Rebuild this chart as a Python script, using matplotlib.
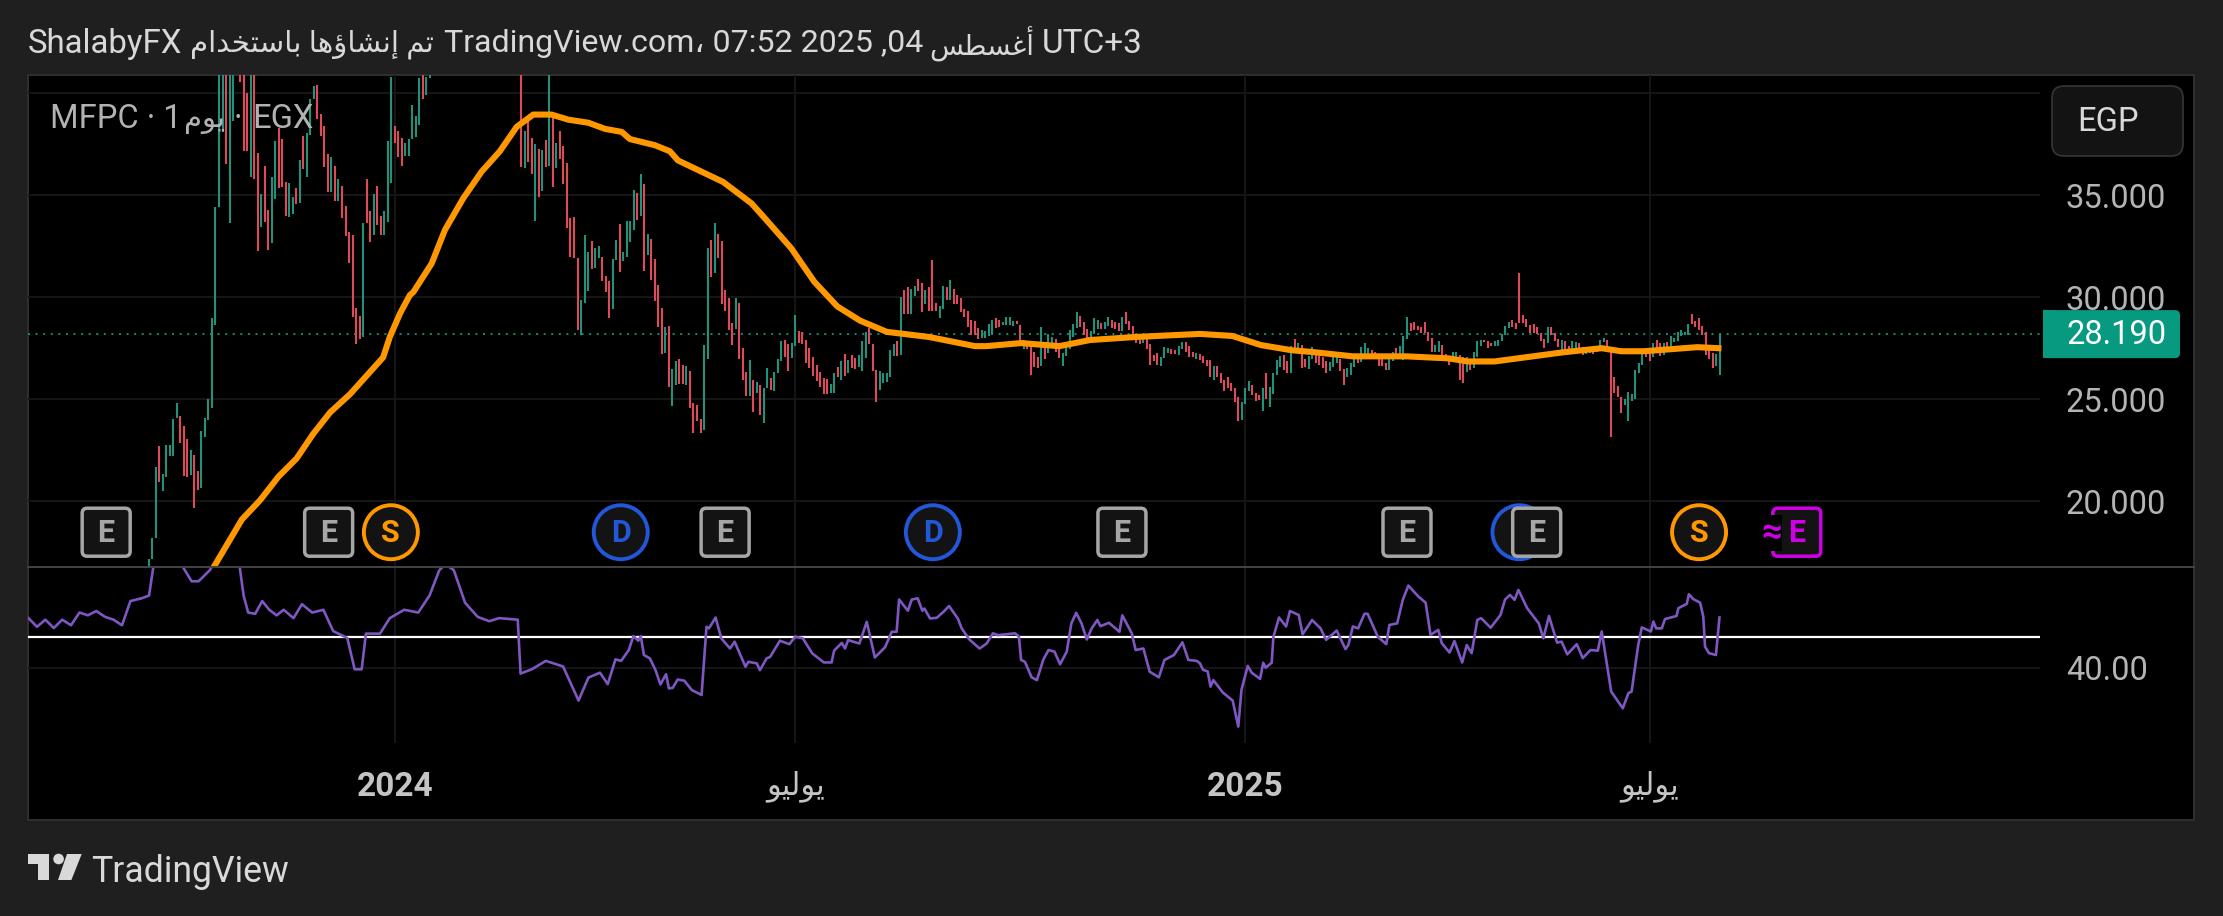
import numpy as np
import matplotlib
matplotlib.use('Agg')
import matplotlib.pyplot as plt
from matplotlib.patches import FancyBboxPatch, Circle, Polygon, Rectangle

plt.rcParams['font.family'] = ['Roboto', 'DejaVu Sans']

nan = float('nan')
W, H = 2223, 916

# daily bars, high and low (41.5 = runs off the top of the pane)
bar_high = [
    17.15,18.2,21.7,22.7,21.35,22.75,22.75,24.05,24.8,24.2,
    23.7,23.05,22.5,22.25,21.5,23.45,24.1,25.0,29.0,34.4,
    41.5,41.5,41.5,41.5,41.5,nan,41.5,41.5,40.0,41.5,
    41.5,37.05,35.05,36.45,34.25,35.9,37.65,38.3,37.75,35.65,
    35.6,34.9,35.35,36.7,37.9,38.05,39.7,40.35,40.4,39.0,
    38.4,37.0,36.85,36.45,35.8,35.45,34.45,33.2,33.05,29.45,
    29.1,33.65,35.8,34.2,35.05,35.45,34.0,34.2,37.65,40.8,
    38.4,38.15,37.8,37.55,37.75,
    39.4,38.9,40.75,41.5,40.8,41.5,
    nan,nan,nan,nan,nan,nan,nan,nan,nan,nan,nan,nan,nan,nan,nan,nan,nan,nan,nan,nan,nan,nan,nan,nan,nan,
    41.5,38.15,38.7,37.8,37.5,37.25,37.2,37.7,41.5,38.9,
    37.55,38.15,37.4,36.6,33.9,33.95,31.9,29.85,33.05,32.2,
    32.75,32.4,32.5,31.95,31.05,30.8,31.85,32.8,33.6,32.2,
    33.75,33.75,35.25,35.1,36.05,35.55,33.1,32.85,31.85,30.6,
    29.45,28.55,28.6,
    26.5,26.85,26.95,26.7,26.65,26.4,24.8,24.7,24.05,27.65,
    32.4,32.8,33.65,33.1,32.75,30.35,29.95,28.75,29.95,29.7,
    27.5,26.35,26.9,25.95,25.85,25.7,25.55,26.55,26.05,26.35,
    26.95,27.85,27.9,27.7,27.75,29.15,28.35,28.3,27.9,27.5,
    27.05,26.7,26.35,26.05,26.0,25.75,26.3,26.6,26.85,27.2,
    26.9,27.15,27.0,27.15,27.85,28.3,28.5,27.7,26.45,26.4,
    26.3,26.3,27.4,27.7,27.85,30.0,30.35,30.5,30.4,30.55,
    30.9,
    30.7,30.35,30.5,31.8,29.7,29.55,30.55,30.5,30.85,30.4,
    30.1,29.95,29.4,29.3,28.9,28.85,28.5,28.4,28.35,28.7,
    28.9,29.0,28.9,28.8,29.05,29.05,28.85,28.85,28.65,27.9,
    27.85,27.7,27.3,27.05,28.55,27.7,28.2,28.05,27.95,27.6,
    27.25,27.6,28.4,28.7,29.25,29.1,28.8,28.45,28.35,29.0,
    28.9,28.75,28.8,29.05,28.9,28.8,28.75,29.05,29.25,28.85,
    28.6,28.05,27.95,27.95,27.95,27.7,27.15,27.25,27.05,27.55,
    27.5,27.45,27.4,27.6,
    27.8,27.8,27.6,27.3,27.25,27.2,27.1,26.9,26.9,26.65,
    26.65,26.3,25.95,26.1,25.8,25.55,25.1,24.85,25.55,25.9,
    25.7,25.3,25.2,25.55,26.3,25.6,26.3,26.9,27.1,27.15,
    26.85,27.6,27.95,27.75,27.65,26.95,27.1,27.55,27.35,27.3,
    27.05,26.85,26.8,27.15,27.1,26.95,26.5,26.55,26.75,27.2,
    27.15,27.55,27.75,27.5,27.4,27.3,27.0,26.95,26.75,26.95,
    27.3,27.5,27.6,28.1,29.05,28.75,28.8,28.6,28.55,28.8,
    28.3,28.0,27.65,27.85,
    27.65,27.2,27.05,27.3,27.3,27.15,27.05,27.05,26.9,27.3,
    27.85,27.9,27.9,27.85,27.75,27.85,27.9,28.2,28.6,28.8,
    28.9,28.75,31.2,29.15,28.95,28.65,28.7,28.55,28.25,27.95,
    28.55,28.55,28.25,27.95,27.9,27.85,27.6,27.85,27.8,27.75,
    27.55,27.45,27.5,27.5,27.55,27.9,28.0,27.9,27.4,26.1,
    25.65,25.1,25.0,25.35,25.25,26.45,26.75,27.3,27.35,27.3,
    27.75,27.9,27.75,27.75,27.8,28.1,28.0,28.3,28.4,28.3,
    28.7,29.2,28.85,29.0,28.6,28.3,27.65,27.25,27.2,28.19,
]
bar_low = [
    16.75,17.15,18.2,20.95,20.5,21.2,22.2,22.2,24.1,22.85,
    21.25,21.2,21.3,19.65,20.55,20.65,23.15,24.0,24.55,28.65,
    34.4,38.1,36.55,33.65,38.65,nan,40.55,37.15,37.15,35.9,
    35.8,32.25,33.45,33.7,32.3,32.65,34.8,35.35,35.4,34.0,
    33.95,34.1,34.55,34.6,36.3,35.9,37.95,39.7,38.75,37.9,
    36.4,35.15,35.15,34.7,34.7,33.9,33.0,31.7,29.05,27.7,
    27.95,28.05,33.65,32.7,33.05,33.55,33.05,33.05,33.7,35.6,
    37.55,36.85,36.45,36.9,36.9,
    37.75,37.85,38.45,39.7,39.9,40.75,
    nan,nan,nan,nan,nan,nan,nan,nan,nan,nan,nan,nan,nan,nan,nan,nan,nan,nan,nan,nan,nan,nan,nan,nan,nan,
    36.4,36.35,36.65,36.05,33.75,34.9,35.2,36.4,36.45,35.4,
    36.35,36.75,35.55,33.4,31.95,31.9,28.4,28.15,29.7,30.3,
    31.4,31.45,31.9,30.8,30.25,29.0,29.4,31.8,31.25,31.75,
    31.95,32.7,33.3,33.8,34.0,31.3,32.05,30.85,29.8,28.55,
    27.2,27.25,25.6,
    24.65,25.7,25.75,25.75,25.7,24.55,23.35,23.95,23.35,23.5,
    26.95,31.0,31.2,31.9,29.65,29.3,28.4,27.65,28.45,26.95,
    25.95,25.15,25.15,24.35,25.3,24.25,23.85,25.55,25.45,25.4,
    26.3,26.85,27.05,26.4,27.0,27.6,27.75,27.7,26.75,26.55,
    26.15,25.9,25.6,25.25,25.25,25.3,25.3,26.1,25.95,26.15,
    26.3,26.55,26.5,26.6,26.4,27.0,27.7,26.4,24.85,25.45,
    25.8,25.85,26.1,27.1,27.1,27.15,29.2,29.2,29.2,30.05,
    30.3,
    29.25,29.65,29.3,29.3,29.3,29.0,29.4,29.85,29.85,29.65,
    29.65,29.25,29.05,28.55,28.15,28.15,27.95,28.0,28.0,28.1,
    28.2,28.5,28.55,28.65,28.65,28.65,28.6,28.7,27.6,27.45,
    27.45,26.2,26.6,26.55,26.65,26.95,27.25,27.6,27.3,27.0,
    26.65,27.1,27.45,28.05,28.5,28.55,28.15,27.85,27.85,28.2,
    28.45,28.45,28.45,28.6,28.5,28.45,28.35,28.35,28.7,28.4,
    28.0,27.75,27.7,27.75,27.45,26.7,26.85,26.7,26.65,27.0,
    27.25,27.2,27.2,27.15,
    27.45,27.3,27.05,27.05,26.95,26.9,26.75,26.65,26.1,25.95,
    26.1,25.8,25.4,25.55,25.4,24.85,23.95,24.0,24.75,25.4,
    25.2,24.9,24.95,24.4,25.0,24.6,25.25,26.2,26.6,26.45,
    26.3,26.3,27.3,27.3,26.55,26.6,26.5,26.95,26.75,26.7,
    26.55,26.3,26.4,26.6,26.75,26.4,25.7,26.1,26.2,26.6,
    26.75,26.8,27.2,27.05,27.05,26.95,26.65,26.65,26.45,26.45,
    26.85,27.05,27.2,26.9,27.95,28.35,28.4,28.4,28.25,28.25,
    27.85,27.3,27.3,27.3,
    27.05,26.85,26.7,26.85,27.05,25.95,25.8,26.35,26.45,26.55,
    27.05,27.6,27.8,27.5,27.6,27.6,27.6,27.85,28.15,28.5,
    28.55,28.45,28.75,28.75,28.55,28.25,28.25,28.2,27.85,27.5,
    27.75,28.15,27.85,27.55,27.2,27.25,27.3,27.3,27.5,27.45,
    27.15,27.2,27.25,27.2,27.3,27.35,27.8,27.4,23.15,25.3,
    25.1,24.3,24.7,23.95,24.9,25.0,26.3,26.7,27.05,26.85,
    27.05,27.25,27.1,27.15,27.55,27.6,27.8,27.85,28.1,28.15,
    28.15,28.7,28.55,28.4,28.15,27.15,26.95,26.55,26.65,26.2,
]
bar_dir = (
    'GGGRGGGGGR' 'RRGRRGGGGG' 'GGRGGGRRRG' 'RRGRRGGRRR' 'GGRGRGGGRR'
    'RRGRGRRRRR' 'RGRRGRRGGG' 'RRRGG'
    'GGGRGG'
    'GGGGGGGGGGGGGGGGGGGGGGGGG'
    'RGRRGRGRGR' 'GRRRRRRGGG' 'RGGRRRGGRG' 'GGGRGRGRRR' 'RGR'
    'GGRRGRRRRG' 'GRGRRRRRGR' 'RRGRGRGGRG' 'GGRRGGRRRR' 'RRRRRGGRGR'
    'GRRGGGRRRG' 'GGGGRGRRGG' 'R'
    'RGRRRGGRGR' 'RRRRRRRGGG' 'GRRGGGGRRG' 'RRRRGRGGRR' 'GGGGGRRRGG'
    'GRGGRRRGRR' 'RRRGRRRRGG' 'GRRG'
    'GRRRGRRRRG' 'RRRRRRRGGG' 'RRRGRGGGGR' 'RGRGRRGGRR' 'RRGGGRRGGG'
    'RGGGRRRRRG' 'GRGGGRRRRR' 'RRGG'
    'RRRGGRRGRG' 'GGRRRGGGGG' 'RRRRRRRRRR' 'GRRRGRRGGR' 'RGGRGGGRRR'
    'RRGGGGGGRR' 'GRRGRGGGGG' 'GRRRRRRRGG'
)

# moving average knots: bar position, price
ma_bar = [18.6,26.5,31.7,36.9,42.1,46.8,51.6,57.3,62.0,66.7,68.6,71.5,74.3,75.3,80.5,84.3,89.5,94.7,99.9,
          104.7,109.4,114.6,119.4,125.1,129.8,134.6,136.9,144.0,148.3,150.6,163.4,171.5,175.8,182.8,189.4,195.9,
          202.4,210.0,222.0,235.1,238.3,248.2,259.1,267.8,280.8,299.1,308.3,316.5,325.2,331.8,342.6,357.9,369.9,
          375.3,382.9,393.8,402.5,413.4,418.9,425.4,440.6,446.6]
ma_val = [16.8,19.1,20.05,21.2,22.1,23.3,24.35,25.25,26.15,27.05,28.05,29.2,30.1,30.25,31.65,33.3,34.85,36.15,37.15,
          38.35,38.95,38.95,38.7,38.55,38.25,38.1,37.75,37.45,37.15,36.7,35.65,34.6,33.77,32.4,30.75,29.55,
          28.85,28.3,28.05,27.6,27.6,27.75,27.6,27.9,28.05,28.2,28.1,27.65,27.4,27.3,27.1,27.1,27.0,
          26.85,26.85,27.1,27.3,27.5,27.35,27.35,27.55,27.5]

# lower pane oscillator knots
rsi_bar = [-34.2,-31.8,-29.4,-27,-24.6,-22.1,-19.7,-17.3,-14.9,-12.4,-10,-7.6,-5.2,-2,0.1,1.3,5,9.8,12.2,14.2,17.4,21,25.9,
           27,28.3,30.3,32.3,34.3,36.4,38.4,41.2,43.6,46.5,49.7,52.5,56.5,58.6,60.6,61.8,65.8,68.6,72.7,76.7,79.9,82.7,84.4,
           86.8,90,93.6,96.9,99.7,105,105.8,109,113,117.9,122.3,125.1,
           128.4,130.6,132.8,134.4,136.6,137.9,139.3,140,140.9,142.6,144.2,145.6,147.2,148,149.1,150.5,152.4,154.5,157.3,
           158.7,159.4,161.3,162.9,165.4,166.7,169.8,170.6,173,173.9,175.8,176.8,179.6,182.3,183.9,186.1,188.8,192.1,194.3,
           195,197.2,198.1,199,202.2,204.3,206.6,209.5,211.4,212.8,213.5,216,217.1,218.8,220.1,220.7,222.3,224.2,226.1,227.7,
           230.2,231.3,233.5,236.4,238.4,240.2,241.6,246.5,247.6,248.2,249.3,251.2,252.7,254.5,256,257.7,259.3,261.2,262.5,
           263.9,265.4,266.9,268.3,269.9,270.8,273.2,276.2,277,279.7,280.8,283,284.8,287.4,289,291.7,294.1,295.8,298.2,
           299.1,300,301.3,302.1,302.9,305.6,308.4,310,310.9,312.7,313.8,316.2,317.1,317.8,319.5,320,321.6,323.6,324.7,327.2,
           328.3,331,333.4,335,338,340.5,341.3,342.6,344.1,345.9,346.8,349.7,352.1,353,355.2,356.8,358.4,361.2,363.3,364.7,
           366.9,367.9,370.1,371.5,373.7,375,376.4,378,379.1,381.8,384.6,385.9,387.3,388.6,389.7,392.2,395.5,396.8,398.4,
           400.7,402,403.6,406.3,408,410.2,412.3,413.4,416.1,419.4,421,421.9,423.8,424.8,427.4,428.1,428.9,430.5,431.4,434.7,
           435.2,437.6,438.2,439.5,441.4,442.3,442.8,443.9,445.9,446.9]
rsi_val = [56,53.2,55.5,52.8,55.5,53.7,57.8,56.9,58.3,56.4,55.5,53.7,61.5,62.4,63.3,72.4,78,72.4,67.9,67.9,71.5,78,72.4,
           63.3,57.8,57.4,61.5,58.7,56.9,58.7,56,60.5,57.8,58.7,51.8,49.6,39.5,39.5,51,51,56,58.7,57.8,63.3,71.5,73.4,
           71.5,61,56.4,55,56,55.5,38.1,39.5,42.2,40.4,29.4,36.8,
           38.4,34.7,42.7,42.2,45.7,50.2,48.7,50.2,44.1,43,39.2,34.6,37.9,33.3,33.5,36.2,35.8,32.8,31.2,
           53.2,52.7,56.2,49.5,46.2,48.4,40.3,41.9,41.4,39.2,43,43.5,48.7,47.6,50,49.5,44.6,41.7,41.7,
           45.5,48,46.2,48.9,47.8,54.8,43.3,46.6,51.6,51.6,62,58.4,62,62.4,58.4,59.1,55.9,56.1,58,59.9,
           55.9,52.7,49.1,46.2,47.8,51.1,50.5,51.1,50,42.5,41.9,36.9,36,42.5,45.7,45.2,41.1,45.2,54.3,
           57.7,54.3,49.1,52.7,55.4,53.4,54.5,51.6,56.9,51.1,45.7,46.2,38.7,36.9,42.5,44.1,48.2,42.5,42.2,
           41.4,39.3,38.8,33.9,36,32,29.4,21,32.8,40.6,38.4,36.4,41.6,40,41.6,50,56.2,53.3,58.3,57,
           50.8,55.4,52.7,49,52,46,47.3,53.3,52.7,57.4,57.4,50,47.6,53.8,54.3,61.9,66.5,63,61,50.6,
           52.2,47.9,44.9,48.6,41.7,47.3,44.7,55.4,56,52.9,57,62,63.5,61.9,65.1,59.2,54.3,49.5,56.7,
           48.1,48.4,44.3,47.6,43.1,45.7,45.5,51.7,32.3,26.9,31.8,32.3,47.4,53,51.7,54.9,52.7,52.7,55.7,56.7,
           59.2,60.6,63.7,62.1,61,56.5,46.8,44.7,44.1,56.2]

last_price = 28.19
price_ticks = [20, 25, 30, 35, 40]
price_labels = ['20.000', '25.000', '30.000', '35.000', '']
rsi_ticks = [40]
rsi_labels = ['40.00']
rsi_level = 50

tick_bars = [70, 184, 312, 427]
july = 'يوليو'

# events on the time scale
event_bars = [-12.1, 51.2, 68.9, 134.3, 164, 223.1, 276.9, 358, 390, 394.9, 441.1, 468.9]
event_kinds = ['E', 'E', 'S', 'D', 'E', 'D', 'E', 'E', 'D', 'E', 'S', 'F']

# arabic glyph forms: isolated, final, initial, medial
FORMS = {
    'ا': (0xFE8D, 0xFE8E), 'أ': (0xFE83, 0xFE84), 'إ': (0xFE87, 0xFE88), 'ؤ': (0xFE85, 0xFE86),
    'د': (0xFEA9, 0xFEAA), 'و': (0xFEED, 0xFEEE),
    'ب': (0xFE8F, 0xFE90, 0xFE91, 0xFE92), 'ت': (0xFE95, 0xFE96, 0xFE97, 0xFE98),
    'خ': (0xFEA5, 0xFEA6, 0xFEA7, 0xFEA8), 'س': (0xFEB1, 0xFEB2, 0xFEB3, 0xFEB4),
    'ش': (0xFEB5, 0xFEB6, 0xFEB7, 0xFEB8), 'ط': (0xFEC1, 0xFEC2, 0xFEC3, 0xFEC4),
    'غ': (0xFECD, 0xFECE, 0xFECF, 0xFED0), 'ل': (0xFEDD, 0xFEDE, 0xFEDF, 0xFEE0),
    'م': (0xFEE1, 0xFEE2, 0xFEE3, 0xFEE4), 'ن': (0xFEE5, 0xFEE6, 0xFEE7, 0xFEE8),
    'ه': (0xFEE9, 0xFEEA, 0xFEEB, 0xFEEC), 'ي': (0xFEF1, 0xFEF2, 0xFEF3, 0xFEF4),
}


def ar(text):
    # matplotlib does no shaping, so pick the joined forms and lay them out left to right
    out = []
    for k, ch in enumerate(text):
        if ch not in FORMS:
            out.append(ch)
            continue
        f = FORMS[ch]
        before = k > 0 and text[k - 1] in FORMS and len(FORMS[text[k - 1]]) == 4
        after = k + 1 < len(text) and text[k + 1] in FORMS and len(f) == 4
        if before and after:
            g = f[3]
        elif before:
            g = f[1]
        elif after:
            g = f[2]
        else:
            g = f[0]
        out.append(chr(g))
    return ''.join(reversed(out))


def box(l, t, r, b):
    return [l / W, 1 - b / H, (r - l) / W, (b - t) / H]


BG = '#1f1f1f'
FRAME = '#2e2e2e'
GRID = '#161616'
LABEL = '#b4b4b4'
GREEN = '#22917c'
RED = '#dd4b5a'
ORANGE = '#ff9800'
PURPLE = '#7e57c2'

fig = plt.figure(figsize=(W / 100, H / 100), dpi=100, facecolor=BG)

ax_bg = fig.add_axes(box(28, 75, 2194, 820), facecolor='black')
ax_bg.set_xticks([])
ax_bg.set_yticks([])
for s in ax_bg.spines.values():
    s.set_color(FRAME)
    s.set_linewidth(1.5)

ax_price = fig.add_axes(box(28, 75, 2040, 566.5), facecolor='none')
ax_rsi = fig.add_axes(box(28, 567, 2040, 743), facecolor='none')
xlim = (-34.34, 538.1)
for ax in (ax_price, ax_rsi):
    ax.set_xlim(*xlim)
    ax.set_xticks(tick_bars)
    ax.grid(True, color=GRID, linewidth=1.4)
    ax.set_axisbelow(True)
    ax.yaxis.tick_right()
    ax.tick_params(length=0, labelsize=23.5, labelcolor=LABEL, pad=18.5)
    for s in ax.spines.values():
        s.set_visible(False)

# price pane
ax_price.set_ylim(16.8, 40.89)
ax_price.set_yticks(price_ticks, price_labels)
ax_price.tick_params(axis='x', labelbottom=False)
assert len(bar_high) == len(bar_low) == len(bar_dir)
x = np.arange(len(bar_high))
cols = [GREEN if d == 'G' else RED for d in bar_dir]
ax_price.axhline(last_price, color='#12967f', linewidth=1.3, linestyle=(0, (1.1, 3.1)), zorder=1)
ax_price.vlines(x, bar_low, bar_high, colors=cols, linewidth=1.5, capstyle='butt', zorder=2)
ax_price.plot(ma_bar, ma_val, color=ORANGE, linewidth=4.4, solid_joinstyle='round', zorder=3)

# oscillator pane
ax_rsi.set_ylim(15.7, 72.5)
ax_rsi.set_yticks(rsi_ticks, rsi_labels)
ax_rsi.plot(rsi_bar, rsi_val, color=PURPLE, linewidth=1.9, zorder=3)
ax_rsi.axhline(rsi_level, color='white', linewidth=1.6, zorder=2)
ax_rsi.set_xticks(tick_bars, ['2024', ar(july), '2025', ar(july)])
ax_rsi.tick_params(axis='x', pad=20, labelsize=24, labelcolor='#c4c4c4')
for k in (0, 2):
    ax_rsi.get_xticklabels()[k].set_fontweight('bold')
for k in (1, 3):
    ax_rsi.get_xticklabels()[k].set_fontsize(22)

# everything drawn in picture pixels from here on
top = fig.add_axes([0, 0, 1, 1], facecolor='none')
top.set_xlim(0, W)
top.set_ylim(H, 0)
top.axis('off')


def to_px(bar, price):
    X, Y = ax_price.transData.transform((bar, price))
    return X, H - Y


top.plot([28, 2194], [566.7, 566.7], color='#434343', linewidth=1.4)

# events, each one stacked over the one before it
ev_y = 18.48
for n, (b, kind) in enumerate(zip(event_bars, event_kinds)):
    cx, cy = to_px(b, ev_y)
    z = 5 + n
    if kind in 'SD':
        c = ORANGE if kind == 'S' else '#2157d8'
        top.add_patch(Circle((cx, cy), 27, fc='#131313', ec=c, linewidth=2.8, zorder=z))
        top.text(cx, cy + 1, kind, color=c, fontsize=22, fontweight='bold', ha='center', va='center', zorder=z)
    else:
        c = '#a6a6a6' if kind == 'E' else '#cf00e6'
        top.add_patch(FancyBboxPatch((cx - 24, cy - 24), 48, 48, boxstyle='round,pad=0,rounding_size=5',
                                     fc='#131313', ec=c, linewidth=2.5, zorder=z))
        top.text(cx, cy + 1, 'E', color=c, fontsize=22, fontweight='bold', ha='center', va='center', zorder=z)
        if kind == 'F':
            top.text(cx - 25, cy + 1, '≈', color=c, fontsize=26, fontweight='bold', ha='center', va='center', zorder=z,
                     bbox=dict(boxstyle='square,pad=0.0', fc='black', ec='none'))

# price scale extras
top.add_patch(FancyBboxPatch((2052, 86), 131, 70, boxstyle='round,pad=0,rounding_size=12',
                             fc='#131313', ec='#333333', linewidth=1.3, zorder=20))
top.text(2077, 122, 'EGP', color='#d8d8d8', fontsize=23.5, va='center', zorder=21)
ly = to_px(0, last_price)[1]
top.add_patch(FancyBboxPatch((2043, ly - 24), 137, 48, boxstyle='round,pad=0,rounding_size=5',
                             fc='#089981', ec='none', zorder=20))
top.add_patch(Rectangle((2043, ly - 24), 12, 48, fc='#089981', ec='none', zorder=20))
top.text(2066, ly + 1, '%.3f' % last_price, color='white', fontsize=23.5, va='center', zorder=21)

# headers, arabic runs are set smaller as in the source font
top.text(28, 44, 'ShalabyFX', color='#d8d8d8', fontsize=23.8, va='center')
top.text(190, 44, ar('تم إنشاؤها باستخدام'), color='#d8d8d8', fontsize=21.2, va='center')
top.text(444, 44, 'TradingView.com، 07:52 2025 ,04', color='#d8d8d8', fontsize=23.1, va='center')
top.text(929, 44, ar('أغسطس'), color='#d8d8d8', fontsize=20, va='center')
top.text(1042, 44, 'UTC+3', color='#d8d8d8', fontsize=24, va='center')

top.text(50, 119, 'MFPC · 1', color='#b2b2b2', fontsize=23.5, va='center', zorder=4)
top.text(184, 120, ar('يوم'), color='#b2b2b2', fontsize=21, va='center', zorder=4)
top.text(234, 119, '·', color='#b2b2b2', fontsize=23.5, va='center', zorder=4)
top.text(252, 119, 'EGX', color='#b2b2b2', fontsize=23.5, va='center', zorder=4)

# logo
logo = '#d9d9d9'
top.add_patch(Polygon([(28, 854), (49, 854), (49, 880), (38, 880), (38, 864), (28, 864)], fc=logo, ec='none'))
top.add_patch(Circle((58.6, 859), 5.3, fc=logo, ec='none'))
top.add_patch(Polygon([(67, 854), (81.7, 854), (71.4, 880), (58, 880)], fc=logo, ec='none'))
top.text(91, 872, 'TradingView', color=logo, fontsize=25.7, va='center')

fig.savefig('out.png', dpi=100, facecolor=BG)
